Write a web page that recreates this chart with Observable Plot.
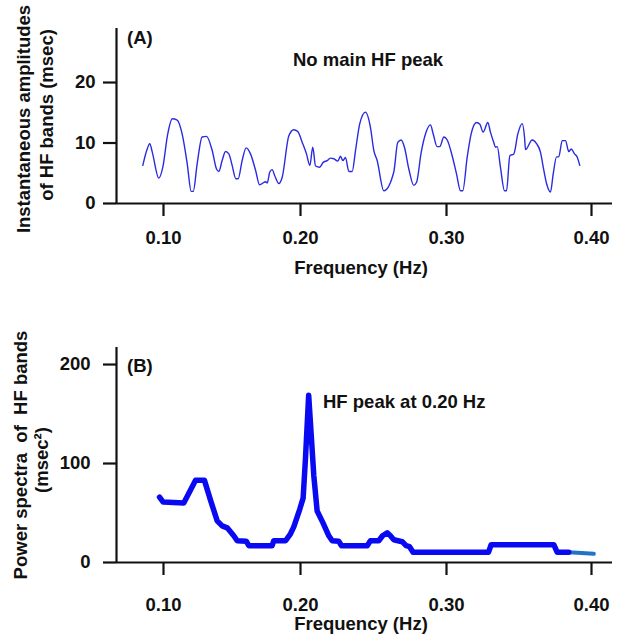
<!DOCTYPE html>
<html>
<head>
<meta charset="utf-8">
<script src="https://cdn.jsdelivr.net/npm/d3@7"></script>
<script src="https://cdn.jsdelivr.net/npm/@observablehq/plot@0.6"></script>
<style>
  body { margin: 0; background: #fff; }
  #chart { position: relative; width: 633px; height: 636px; font-family: "Liberation Sans", Arial, sans-serif; }
  #chart svg { position: absolute; left: 0; overflow: visible; }
</style>
</head>
<body>
<div id="chart"></div>
<script>
// ---------- Data ----------
// Panel A: instantaneous amplitudes of HF bands (msec) vs frequency (Hz)
const freqA = [
  0.0849,0.0881,0.0900,0.0918,0.0966,0.0995,0.1031,0.1064,0.1100,0.1136,
  0.1173,0.1202,0.1217,0.1246,0.1282,0.1314,0.1355,0.1387,0.1404,0.1428,
  0.1453,0.1477,0.1501,0.1528,0.1545,0.1574,0.1604,0.1635,0.1672,0.1701,
  0.1720,0.1745,0.1757,0.1776,0.1793,0.1812,0.1842,0.1866,0.1915,0.1951,
  0.1980,0.2012,0.2041,0.2064,0.2084,0.2103,0.2132,0.2155,0.2183,0.2205,
  0.2228,0.2255,0.2274,0.2290,0.2308,0.2331,0.2354,0.2377,0.2406,0.2445,
  0.2479,0.2502,0.2525,0.2571,0.2639,0.2666,0.2690,0.2712,0.2742,0.2776,
  0.2795,0.2827,0.2856,0.2890,0.2909,0.2936,0.2954,0.2982,0.3005,0.3039,
  0.3069,0.3097,0.3112,0.3143,0.3170,0.3207,0.3230,0.3253,0.3285,0.3303,
  0.3326,0.3338,0.3350,0.3372,0.3400,0.3414,0.3437,0.3464,0.3492,0.3522,
  0.3538,0.3545,0.3591,0.3621,0.3648,0.3671,0.3690,0.3717,0.3736,0.3759,
  0.3774,0.3798,0.3821,0.3843,0.3860,0.3883,0.3901,0.3919
];
const ampA = [
  6.3,9.0,9.9,8.5,4.2,6.0,11.5,14.0,13.8,11.5,
  6.6,2.0,2.0,6.6,11.0,11.1,8.8,5.7,5.3,7.1,
  8.6,8.2,6.3,4.1,4.1,7.1,9.2,8.2,5.5,3.1,
  3.3,3.6,3.4,5.2,5.6,4.6,3.3,4.3,11.2,12.2,
  11.9,10.1,8.2,6.3,9.3,6.2,6.0,6.8,7.1,7.5,
  7.4,7.0,7.8,7.1,7.6,5.3,5.3,8.8,13.2,15.1,
  12.6,8.8,7.1,2.1,5.2,10.1,10.5,9.3,5.7,3.0,
  3.5,8.5,11.5,13.0,11.5,9.4,9.4,11.0,10.5,7.9,
  4.9,2.1,2.1,7.7,11.5,13.4,13.1,11.8,13.4,11.8,
  10.1,9.3,9.4,6.0,2.1,2.1,7.9,8.2,11.5,13.2,
  11.0,8.9,10.5,9.9,8.5,5.5,3.3,1.9,4.9,7.7,
  7.7,10.4,10.4,8.6,9.0,8.2,7.7,6.3
];

// Panel B: power spectra of HF bands (msec^2) vs frequency (Hz)
const freqB = [
  0.0971,0.0998,0.1148,0.1234,0.1299,0.1343,0.1392,0.1428,0.1465,0.1513,
  0.1538,0.1604,0.1623,0.1793,0.1805,0.1891,0.1927,0.1951,0.1995,0.2018,
  0.2034,0.2056,0.2073,0.2091,0.2114,0.2154,0.2194,0.2217,0.2262,0.2281,
  0.2457,0.2479,0.2536,0.2562,0.2594,0.2616,0.2639,0.2697,0.2723,0.2747,
  0.2771,0.3290,0.3308,0.3740,0.3763,0.3843
];
const powB = [
  66,61,60,83,83,63,42,37,35,27,
  22,21.5,17,17,22,22,29,36,54,65,
  105,169,130,88,52,40,27,22,21.5,17,
  17,22,22,27,30,27,23,21,17,16,
  10.4,10.4,18,18,10.4,10.4
];
// Final lighter segment of panel B
const freqBTail = [0.3843, 0.4016];
const powBTail = [10.4, 8.8];

// Ticks
const xTicks = [0.10, 0.20, 0.30, 0.40];
const yTicksA = [0, 10, 20];
const yTicksB = [0, 100, 200];

// Texts
const labelA = "(A)";
const noteA = "No main HF peak";
const labelB = "(B)";
const noteB = "HF peak at 0.20 Hz";
const xTitle = "Frequency (Hz)";
const yTitleA = ["Instantaneous amplitudes", "of HF bands (msec)"];
const yTitleB = ["Power spectra  of  HF bands", "(msec\u00B2)"];

// ---------- Build ----------
const W = 633, H = 318;
const FONT = '"Liberation Sans", Arial, sans-serif';
const FS = 18.5;
const AXW = 2.2;
// x position of the scanned figure's ticks (piecewise to follow the reference)
const xDomain = [0.0657, 0.1, 0.2, 0.3, 0.4, 0.4145];
const xRange = [116, 163, 300, 446, 591, 612];

const dataA = freqA.map((f, i) => ({f, v: ampA[i]}));
const dataB = freqB.map((f, i) => ({f, v: powB[i]}));
const dataBTail = freqBTail.map((f, i) => ({f, v: powBTail[i]}));

function base(yDomain, yRange, marginTop, marginBottom, yTicks, yPad, xPad, marks) {
  return Plot.plot({
    width: W, height: H,
    marginLeft: 116, marginRight: W - 612, marginTop, marginBottom,
    style: {fontFamily: FONT, fontSize: FS + "px", fontWeight: "bold", color: "#111", background: "transparent"},
    x: {type: "linear", domain: xDomain, range: xRange},
    y: {type: "linear", domain: yDomain, range: yRange},
    marks: [
      Plot.axisX({ticks: xTicks, tickFormat: d3.format(".2f"), tickSize: 13, tickPadding: xPad,
                  strokeWidth: AXW, fontSize: FS, fontWeight: "bold", label: null}),
      Plot.axisY({ticks: yTicks, tickFormat: d3.format("d"), tickSize: 13, tickPadding: yPad,
                  strokeWidth: AXW, fontSize: FS, fontWeight: "bold", label: null}),
      ...marks,
      Plot.ruleY([0], {strokeWidth: AXW, stroke: "#111"}),
      Plot.ruleX([xDomain[0]], {strokeWidth: AXW, stroke: "#111"})
    ]
  });
}

const svgA = base([0, 28.93], [203, 28], 28, H - 203, yTicksA, 8, 14, [
  Plot.line(dataA, {x: "f", y: "v", stroke: "#2a2ae0", strokeWidth: 1.4, curve: "monotone-x"})
]);
const svgB = base([0, 217.2], [244, 29], 29, H - 244, yTicksB, 13, 22, [
  Plot.line(dataBTail, {x: "f", y: "v", stroke: "#1f74c6", strokeWidth: 4}),
  Plot.line(dataB, {x: "f", y: "v", stroke: "#0a0af2", strokeWidth: 5.5, strokeLinejoin: "round"})
]);

svgA.style.top = "0px";
svgB.style.top = H + "px";
const chart = document.getElementById("chart");
chart.appendChild(svgA);
chart.appendChild(svgB);

function addText(svg, txt, x, y, anchor, rotate) {
  const t = d3.select(svg).append("text")
    .attr("font-family", FONT).attr("font-size", FS).attr("font-weight", "bold")
    .attr("fill", "#111").attr("text-anchor", anchor)
    .style("white-space", "pre")
    .text(txt);
  if (rotate) t.attr("transform", `translate(${x},${y}) rotate(-90)`);
  else t.attr("x", x).attr("y", y);
}

// Panel A texts
addText(svgA, labelA, 127, 44, "start");
addText(svgA, noteA, 293, 66, "start");
addText(svgA, xTitle, 361, 274, "middle");
addText(svgA, yTitleA[0], 30, 119, "middle", true);
addText(svgA, yTitleA[1], 53, 115, "middle", true);

// Panel B texts
addText(svgB, labelB, 127, 54, "start");
addText(svgB, noteB, 323, 90, "start");
addText(svgB, xTitle, 361, 312, "middle");
addText(svgB, yTitleB[0], 27, 137, "middle", true);
addText(svgB, yTitleB[1], 48, 142, "middle", true);
</script>
</body>
</html>
